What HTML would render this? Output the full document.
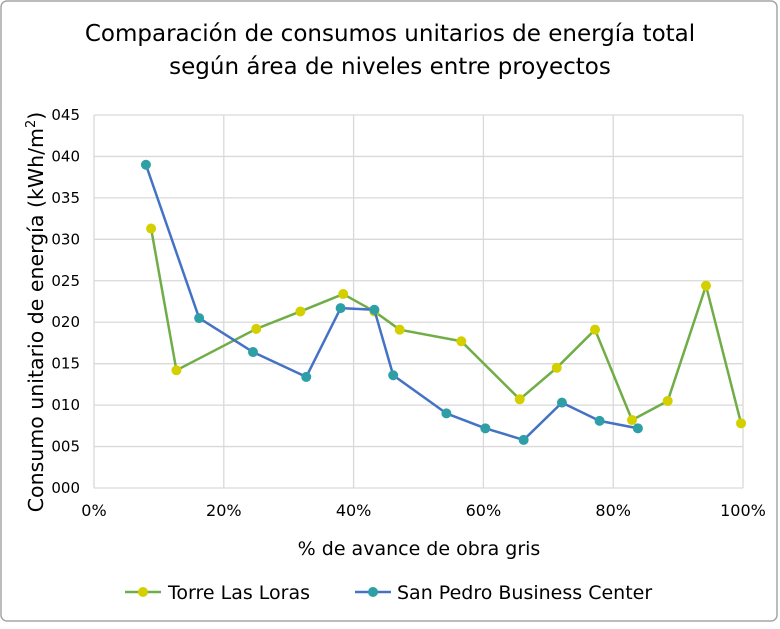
<!DOCTYPE html>
<html><head><meta charset="utf-8"><style>
body{margin:0;background:#fff;font-family:"Liberation Sans","DejaVu Sans",sans-serif}
svg text{font-family:"DejaVu Sans","Liberation Sans",sans-serif}
</style></head><body>
<svg id="chart" width="780" height="624">
<rect x="1" y="1" width="776" height="620" rx="6" fill="#fff" stroke="#a6a6a6" stroke-width="1.5"/>
<text x="390" y="41" text-anchor="middle" font-size="23" fill="#000">Comparación de consumos unitarios de energía total</text>
<text x="390" y="74" text-anchor="middle" font-size="23" fill="#000">según área de niveles entre proyectos</text>
<g id="grid"></g>
<g id="series"></g>
<text transform="translate(43,312) rotate(-90)" text-anchor="middle" font-size="20.5">Consumo unitario de energía (kWh/m<tspan font-size="13" dy="-8">2</tspan><tspan dy="8">)</tspan></text>
<text x="419" y="555" text-anchor="middle" font-size="19">% de avance de obra gris</text>
<g>
<g>
<line x1="125" y1="592" x2="161" y2="592" stroke="#70AD47" stroke-width="2.5"/>
<circle cx="143" cy="592" r="5" fill="#D4D000"/>
<text x="168" y="599" font-size="19">Torre Las Loras</text></g>
<g>
<line x1="355" y1="592" x2="391" y2="592" stroke="#4472C4" stroke-width="2.5"/>
<circle cx="373" cy="592" r="5" fill="#2E9FA6"/>
<text x="397" y="599" font-size="19">San Pedro Business Center</text></g>
</g>
</svg>
<script>
const xTicks=[0,20,40,60,80,100];
const yTicks=[0,5,10,15,20,25,30,35,40,45];
const torreX=[8.8,12.7,25.0,31.8,38.4,43.2,47.1,56.6,65.6,71.3,77.2,82.9,88.4,94.3,99.7];
const torreY=[31.3,14.2,19.2,21.3,23.4,21.3,19.1,17.7,10.7,14.5,19.1,8.2,10.5,24.4,7.8];
const sanX=[8.0,16.2,24.5,32.7,38.0,43.2,46.1,54.3,60.3,66.2,72.1,77.9,83.8];
const sanY=[39.0,20.5,16.4,13.4,21.7,21.5,13.6,9.0,7.2,5.8,10.3,8.1,7.2];
const NS='http://www.w3.org/2000/svg';
const L=94,R=743,T=115,B=488;
const sx=v=>L+(R-L)*v/100, sy=v=>B-(B-T)*v/45;
const grid=document.getElementById('grid'), ser=document.getElementById('series');
function mk(tag,at,parent){const e=document.createElementNS(NS,tag);for(const k in at)e.setAttribute(k,at[k]);parent.appendChild(e);return e;}
yTicks.forEach(v=>{
 const l=mk('line',{x1:L,x2:R,y1:sy(v),y2:sy(v),stroke:'#d9d9d9','stroke-width':1.3},grid);
 
 
 const t=mk('text',{x:L-14,y:sy(v)+5,'text-anchor':'end','font-size':15},grid);
 t.textContent=String(v).padStart(3,'0');
 
 
});
xTicks.forEach(v=>{
 const l=mk('line',{x1:sx(v),x2:sx(v),y1:T,y2:B,stroke:'#d9d9d9','stroke-width':1.3},grid);
 
 
 const t=mk('text',{x:sx(v),y:B+28,'text-anchor':'middle','font-size':16},grid);
 t.textContent=v+'%';
 
 
});
function draw(xs,ys,lc,dc,name){
 const p=mk('polyline',{points:xs.map((x,i)=>sx(x)+','+sy(ys[i])).join(' '),fill:'none',stroke:lc,'stroke-width':2.5,'stroke-linejoin':'round'},ser);
 
 
 xs.forEach((x,i)=>{
  const c=mk('circle',{cx:sx(x),cy:sy(ys[i]),r:5,fill:dc},ser);
  
  
 });
}
draw(torreX,torreY,'#70AD47','#D4D000','torre-las-loras');
draw(sanX,sanY,'#4472C4','#2E9FA6','san-pedro');
</script>
</body></html>
